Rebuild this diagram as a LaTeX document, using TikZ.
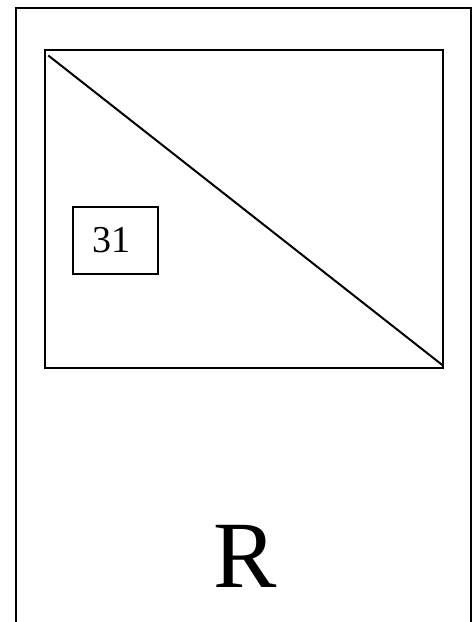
\documentclass[tikz,border=0pt]{standalone}
\usepackage{fontspec}
\setmainfont{Liberation Serif}
\usetikzlibrary{calc}
\begin{document}
\begin{tikzpicture}[x=1pt,y=1pt,
  frame/.style={draw=black,line width=2pt},
]
\useasboundingbox (0,0) rectangle (474,622);
\clip (0,0) rectangle (474,622);
\draw[frame] (15.7,-5) rectangle (470.7,613.7);
\node[frame,inner sep=0pt,minimum width=398pt,minimum height=318.3pt] (inner) at (244.3,412.85) {};
\draw[line width=2pt] ($(inner.north west)+(4,-6.5)$) -- ($(inner.south east)+(-1,3.5)$);
\node[frame,inner sep=0pt,minimum width=84.4pt,minimum height=67.6pt] (num) at (115.5,381.5) {};
\node[inner sep=0pt,font=\fontsize{38}{40}\selectfont] (numtext) at (111,381.5) {31};
\node[inner sep=0pt,anchor=base,font=\fontsize{95}{100}\selectfont] (R) at (245.3,34.7) {R};
\end{tikzpicture}
\end{document}
